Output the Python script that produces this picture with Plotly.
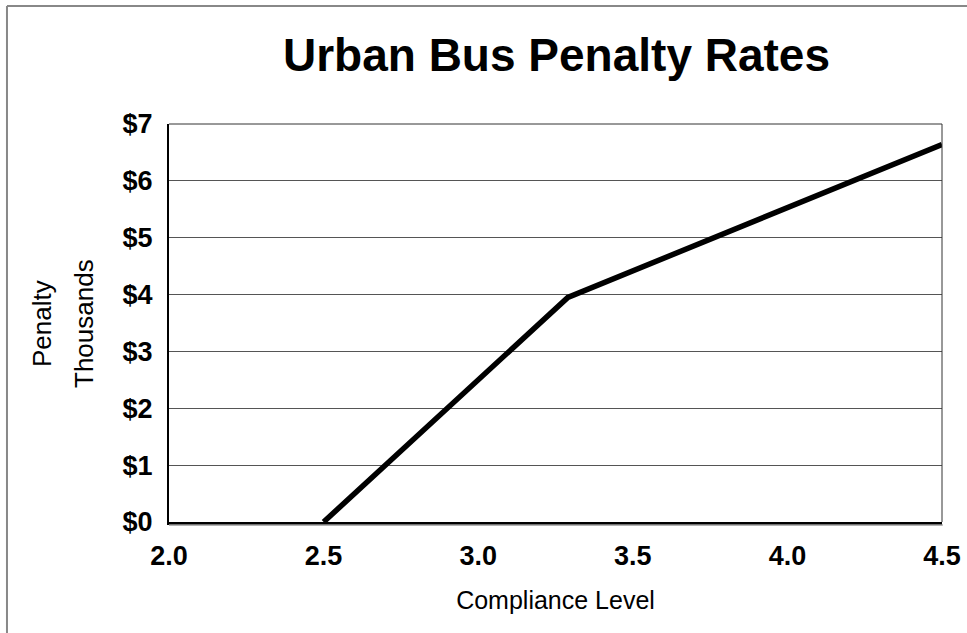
import plotly.graph_objects as go

# dados
compliance = [2.5, 3.29, 4.5]
penalty_thousands = [0, 3.95, 6.64]

x_ticks = [2.0, 2.5, 3.0, 3.5, 4.0, 4.5]
x_labels = ['2.0', '2.5', '3.0', '3.5', '4.0', '4.5']
y_ticks = [0, 1, 2, 3, 4, 5, 6, 7]
y_labels = ['$' + str(v) for v in y_ticks]

FONT = 'Liberation Sans, Arial, sans-serif'

fig = go.Figure()
fig.add_trace(go.Scatter(
    x=compliance,
    y=penalty_thousands,
    mode='lines',
    line=dict(color='black', width=5.5),
    showlegend=False,
    cliponaxis=False,
))

fig.update_layout(
    width=967, height=633,
    margin=dict(l=169, r=25, t=124, b=111),
    paper_bgcolor='white',
    plot_bgcolor='white',
    font=dict(family=FONT, color='black'),
    title=dict(
        text='<b>Urban Bus Penalty Rates</b>',
        font=dict(size=46, family=FONT, color='black'),
        x=0.5755, xanchor='center',
        y=0.913, yanchor='middle',
    ),
)

fig.update_xaxes(
    range=[2.0, 4.5],
    tickvals=x_ticks,
    ticktext=x_labels,
    tickfont=dict(size=27, family=FONT, weight='bold'),
    ticklabelstandoff=8,
    showgrid=False,
    zeroline=False,
    automargin=False,
    showline=True, linecolor='black', linewidth=3,
    title=dict(text='Compliance Level', font=dict(size=25, family=FONT), standoff=22),
)

fig.update_yaxes(
    range=[0, 7],
    tickvals=y_ticks,
    ticktext=y_labels,
    tickfont=dict(size=27, family=FONT, weight='bold'),
    ticklabelstandoff=9,
    showgrid=True, gridcolor='#555555', gridwidth=1,
    zeroline=False,
    automargin=False,
    showline=True, linecolor='black', linewidth=2,
)

# título do eixo y em duas linhas
fig.add_annotation(text='Penalty', textangle=-90, xref='paper', yref='paper',
                   x=-0.1643, y=0.5, xanchor='center', yanchor='middle',
                   showarrow=False, font=dict(size=26, family=FONT))
fig.add_annotation(text='Thousands', textangle=-90, xref='paper', yref='paper',
                   x=-0.110, y=0.5, xanchor='center', yanchor='middle',
                   showarrow=False, font=dict(size=26, family=FONT))

# bordas do plot (topo e direita) e sombra do eixo
fig.add_shape(type='line', xref='paper', yref='paper', x0=0, x1=1, y0=1, y1=1,
              line=dict(color='#333333', width=1))
fig.add_shape(type='line', xref='paper', yref='paper', x0=1, x1=1, y0=0, y1=1,
              line=dict(color='#333333', width=1))
fig.add_shape(type='line', xref='paper', yref='paper', x0=0, x1=1.001, y0=-0.0075, y1=-0.0075,
              line=dict(color='#999999', width=1.5))

# moldura externa (só esquerda e topo aparecem na imagem)
fig.add_shape(type='line', xref='paper', yref='paper',
              x0=-0.2096, x1=1.2, y0=1.2965, y1=1.2965,
              line=dict(color='#888888', width=2), layer='below')
fig.add_shape(type='line', xref='paper', yref='paper',
              x0=-0.2096, x1=-0.2096, y0=-0.5, y1=1.2965,
              line=dict(color='#888888', width=2), layer='below')

# tira a margem padrão do body para a figura ocupar a janela toda
fig.write_html('out.html',
               config={'displayModeBar': False},
               post_script="document.body.style.margin='0';document.body.style.overflow='hidden';")
